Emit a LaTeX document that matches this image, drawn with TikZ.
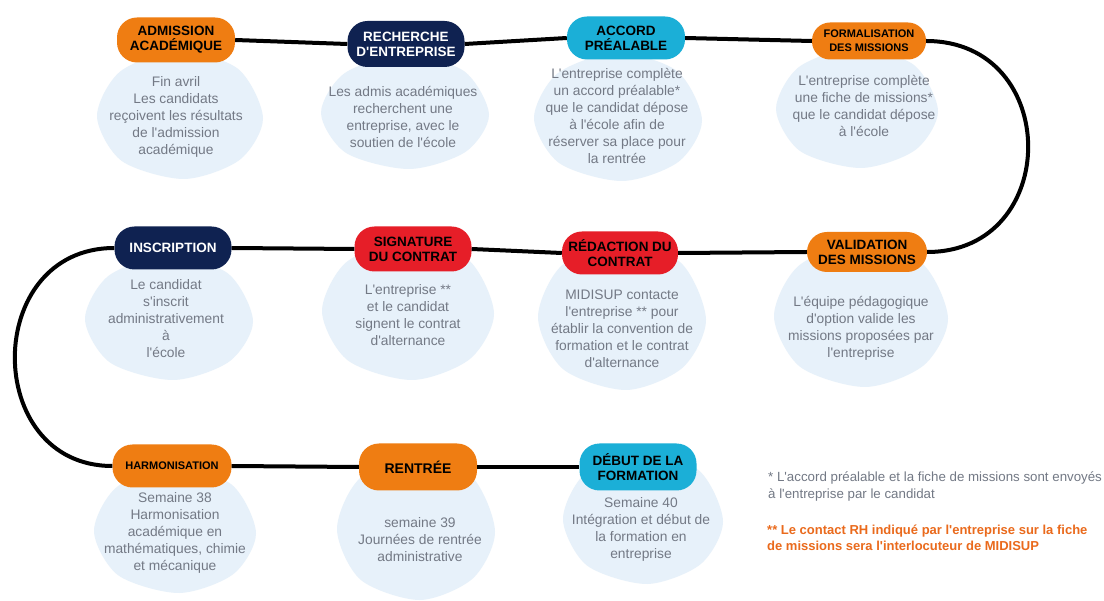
\documentclass[tikz,border=0pt]{standalone}
\usepackage{fontspec}
\setmainfont{Liberation Sans}
\definecolor{orangeP}{HTML}{EF7D12}
\definecolor{navyP}{HTML}{0F2251}
\definecolor{cyanP}{HTML}{1BAFD7}
\definecolor{redP}{HTML}{E61E28}
\definecolor{bubbleC}{HTML}{E7F1FA}
\definecolor{bodyC}{HTML}{737985}
\definecolor{noteO}{HTML}{EA6A1C}
\newcommand\q{\textquotesingle}
\newcommand\myblob[4]{%
  \begin{scope}[shift={(#1,#2)},xscale=#3,yscale=#4]
    \fill[bubbleC] plot[smooth cycle] coordinates {(1,0.05) (0.72,0.7) (0.05,1) (-0.7,0.72) (-1,0.02) (-0.72,-0.68) (-0.02,-1) (0.7,-0.72)};
  \end{scope}}
\tikzset{
  pill/.style={rounded corners=20pt, minimum width=117pt, minimum height=44pt, inner sep=0pt, align=center, font=\fontsize{13.5}{15}\selectfont\bfseries},
  pillO/.style={pill, fill=orangeP, text=black},
  pillN/.style={pill, fill=navyP, text=white},
  pillC/.style={pill, fill=cyanP, text=black},
  pillR/.style={pill, fill=redP, text=black},
  small/.style={font=\fontsize{11}{14}\selectfont\bfseries},
  body/.style={align=center, text=bodyC, inner sep=0pt, font=\fontsize{13.8}{17}\selectfont},
  link/.style={line width=4pt, black},
}
\begin{document}
\begin{tikzpicture}[x=1pt,y=-1pt]
\fill[white] (0,0) rectangle (1104,601);
\useasboundingbox (0,0) rectangle (1104,601);
% bubbles
\myblob{180}{115}{83}{64}
\myblob{405}{112}{84}{57}
\myblob{618}{117}{84}{64}
\myblob{857}{108}{81}{60}
\myblob{169}{318}{84}{62}
\myblob{408}{310}{86}{70}
\myblob{622}{316}{84}{74}
\myblob{861}{315}{87}{72}
\myblob{175}{530}{81}{63}
\myblob{416}{528}{79}{72}
\myblob{643}{518}{80}{66}
% pills
\node[pillO, minimum width=118pt, minimum height=45pt] (adm) at (176,40) {ADMISSION\\ACADÉMIQUE};
\node[pillN, minimum height=46pt] (rech) at (406,44) {RECHERCHE\\D\q ENTREPRISE};
\node[pillC, minimum width=118pt, minimum height=43pt] (acc) at (626,38) {ACCORD\\PRÉALABLE};
\node[pillO, small, minimum width=114pt, minimum height=37pt, rounded corners=18pt] (form) at (869,41) {FORMALISATION\\DES MISSIONS};
\node[pillN, minimum height=43pt] (insc) at (173,248) {INSCRIPTION};
\node[pillR, minimum height=45pt] (sign) at (413,249) {SIGNATURE\\DU CONTRAT};
\node[pillR, minimum width=116pt, minimum height=43pt] (redac) at (620,253) {RÉDACTION DU\\CONTRAT};
\node[pillO, minimum width=120pt, minimum height=40pt] (valid) at (867,252) {VALIDATION\\DES MISSIONS};
\node[pillO, small, minimum width=119pt, minimum height=43pt] (harm) at (172,466) {HARMONISATION};
\node[pillO, minimum width=118pt, minimum height=47pt, font=\fontsize{14}{16}\selectfont\bfseries] (rent) at (418,467) {RENTRÉE};
\node[pillC, minimum height=47pt] (debut) at (638,467) {DÉBUT DE LA\\FORMATION};
% connectors
\draw[link] (adm.east) -- (rech.west);
\draw[link] (rech.east) -- (acc.west);
\draw[link] (acc.east) -- (form.west);
\draw[link] (form.east) .. controls (1062,41) and (1062,252) .. (valid.east);
\draw[link] (valid.west) -- (redac.east);
\draw[link] (redac.west) -- (sign.east);
\draw[link] (sign.west) -- (insc.east);
\draw[link] (insc.west) .. controls (-18,248) and (-18,466) .. (harm.west);
\draw[link] (harm.east) -- (rent.west);
\draw[link] (rent.east) -- (debut.west);
% body texts
\node[body] (tadm) at (176,117) {Fin avril\\Les candidats\\reçoivent les résultats\\de l\q admission\\académique};
\node[body] (trech) at (403,117) {Les admis académiques\\recherchent une\\entreprise, avec le\\soutien de l\q école};
\node[body] (tacc) at (617,116) {L\q entreprise complète\\un accord préalable*\\que le candidat dépose\\à l\q école afin de\\réserver sa place pour\\la rentrée};
\node[body] (tform) at (864,106) {L\q entreprise complète\\une fiche de missions*\\que le candidat dépose\\à l\q école};
\node[body] (tinsc) at (166,319) {Le candidat\\s\q inscrit\\administrativement\\à\\l\q école};
\node[body] (tsign) at (408,315) {L\q entreprise **\\et le candidat\\signent le contrat\\d\q alternance};
\node[body] (tredac) at (622,329) {MIDISUP contacte\\l\q entreprise ** pour\\établir la convention de\\formation et le contrat\\d\q alternance};
\node[body] (tvalid) at (861,328) {L\q équipe pédagogique\\d\q option valide les\\missions proposées par\\l\q entreprise};
\node[body] (tharm) at (175,533) {Semaine 38\\Harmonisation\\académique en\\mathématiques, chimie\\et mécanique};
\node[body] (trent) at (420,540) {semaine 39\\Journées de rentrée\\administrative};
\node[body] (tdebut) at (641,529) {Semaine 40\\Intégration et début de\\la formation en\\entreprise};
% notes
\node[anchor=north west, align=left, inner sep=0pt, text=bodyC, font=\fontsize{13.3}{16.5}\selectfont] (note1) at (768,472) {* L\q accord préalable et la fiche de missions sont envoyés\\à l\q entreprise par le candidat};
\node[anchor=north west, align=left, inner sep=0pt, text=noteO, font=\fontsize{13}{16}\selectfont\bfseries] (note2) at (767,525) {** Le contact RH indiqué par l\q entreprise sur la fiche\\de missions sera l\q interlocuteur de MIDISUP};
\end{tikzpicture}
\end{document}
